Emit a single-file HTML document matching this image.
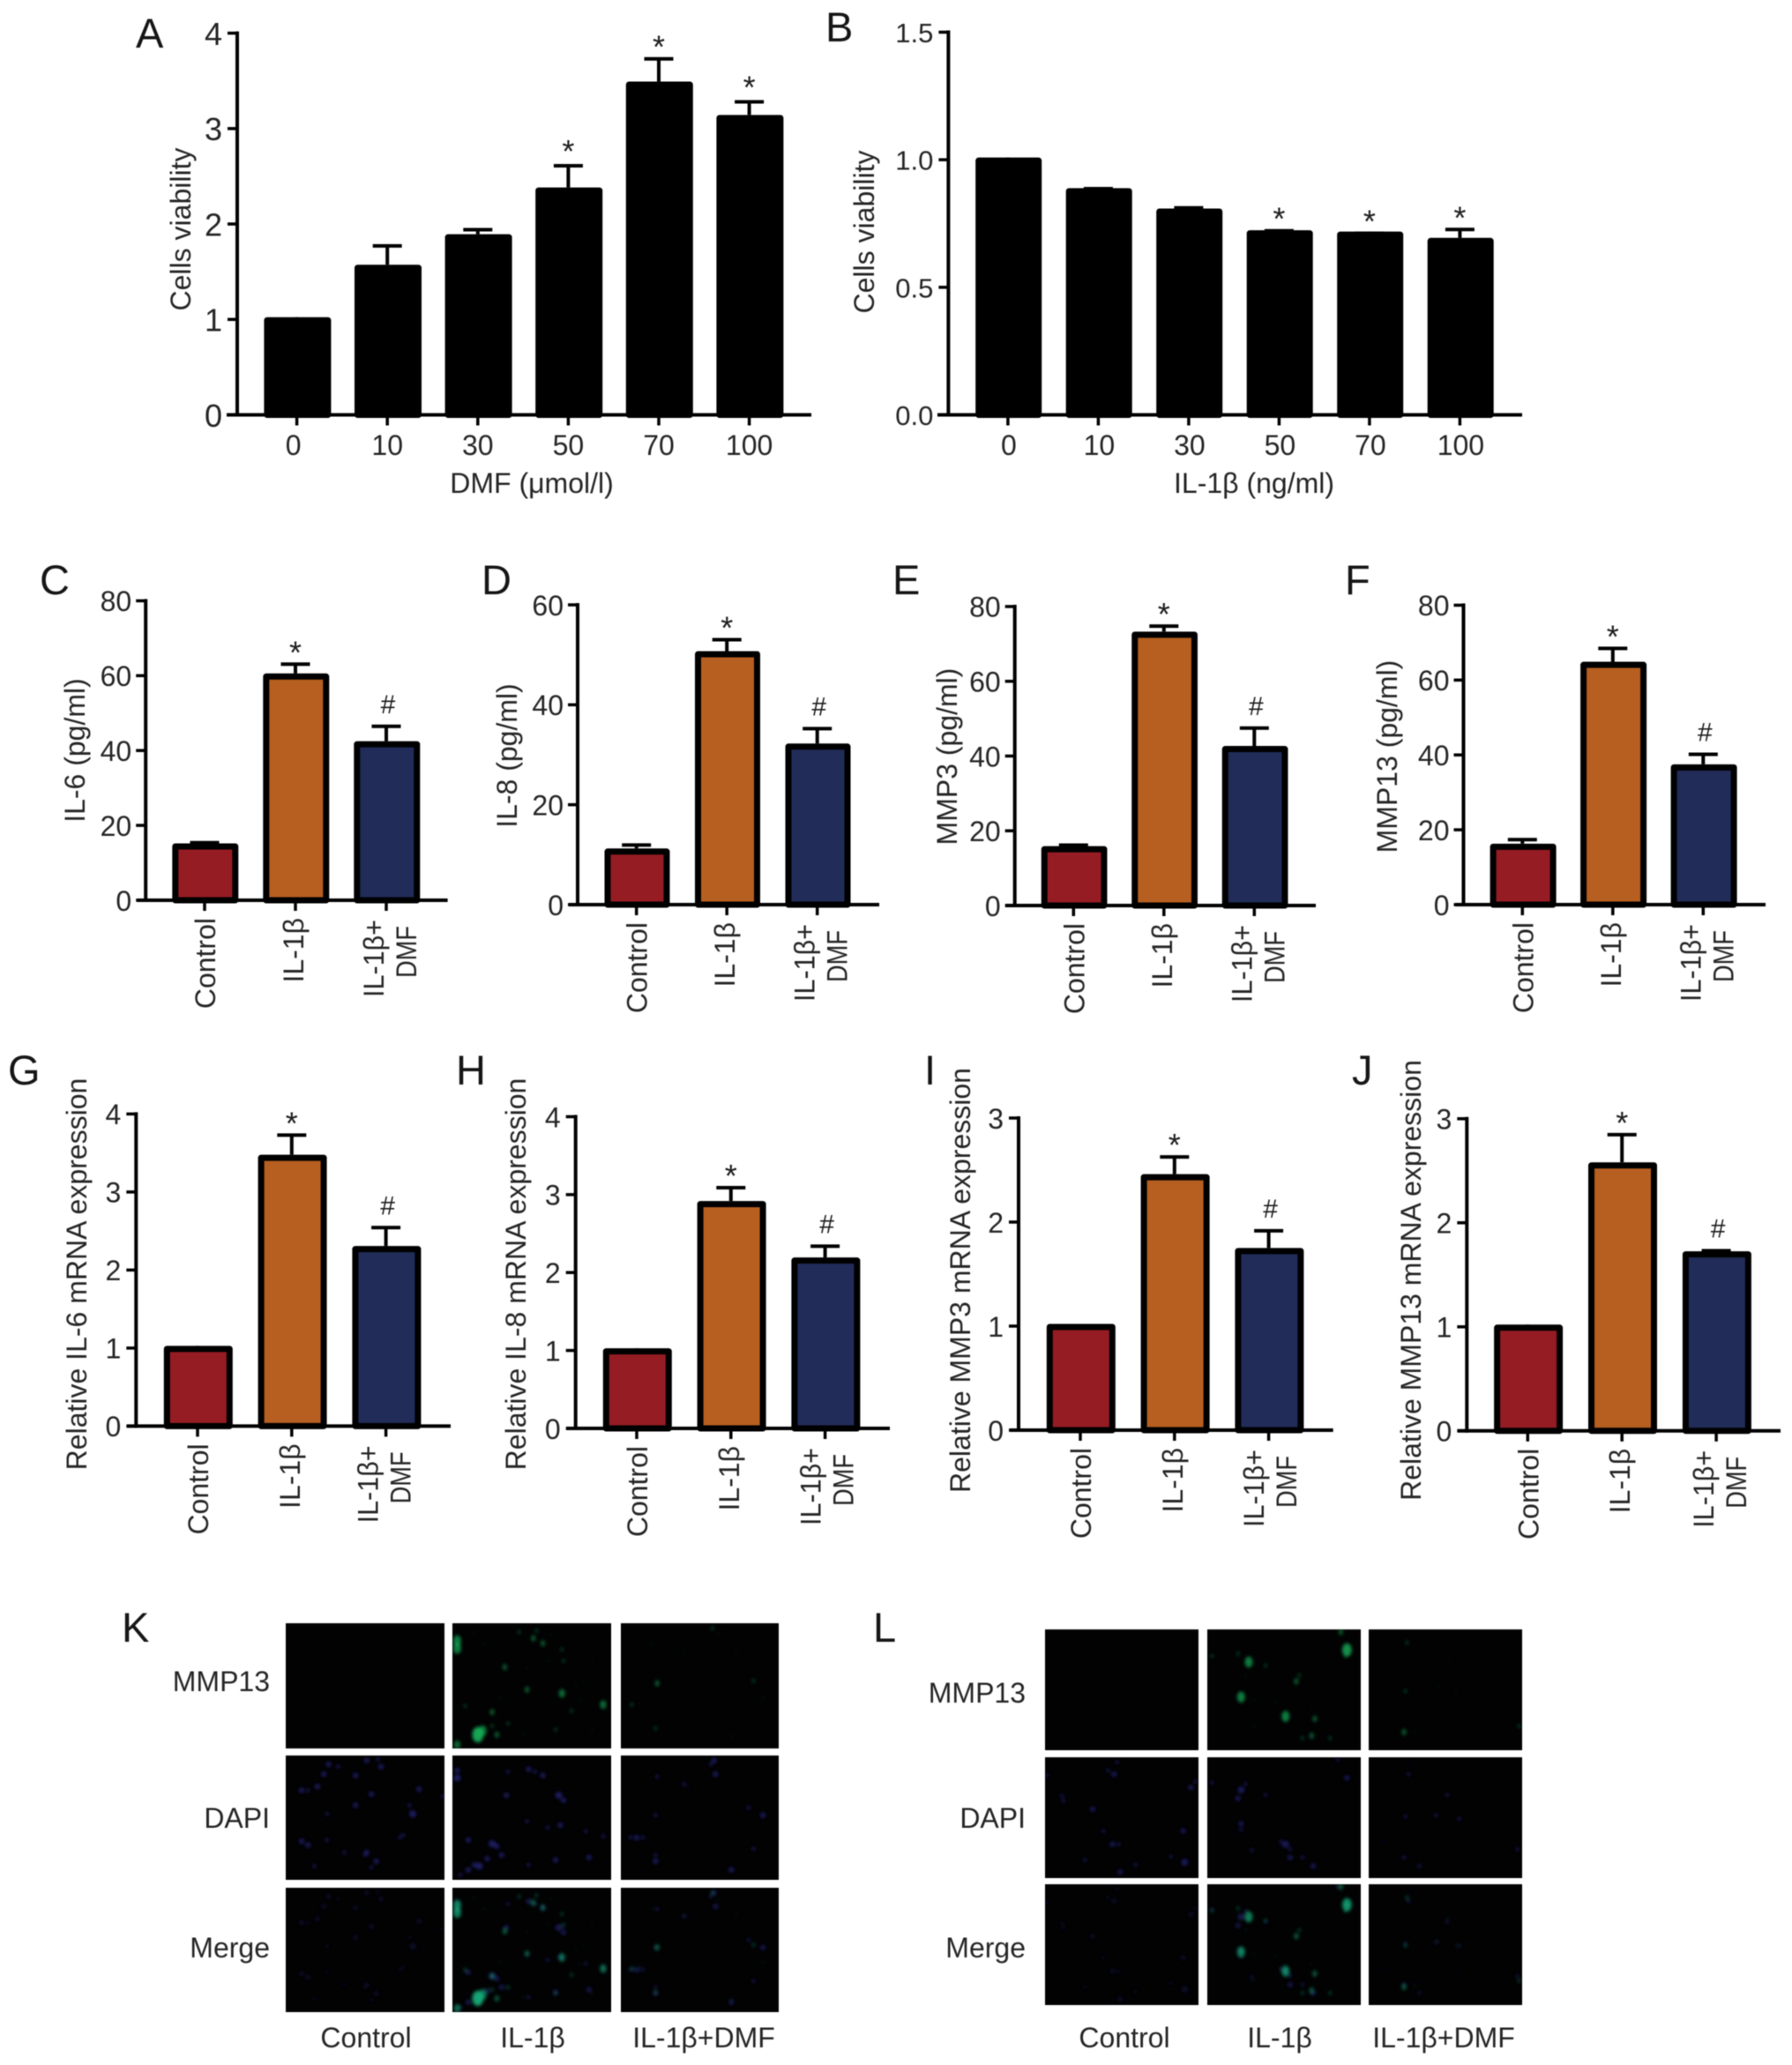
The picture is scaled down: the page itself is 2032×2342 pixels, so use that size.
<!DOCTYPE html>
<html lang="en">
<head>
<meta charset="utf-8">
<title>DMF and IL-1β bar chart figure</title>
<style>
html,body{margin:0;padding:0;background:#fff;}
svg{display:block;filter:blur(.55px);}
text{font-family:"Liberation Sans","DejaVu Sans",sans-serif;font-size:32px;fill:#252525;}
.letter{font-size:47px;fill:#151515;}
.end{text-anchor:end;}
.mid{text-anchor:middle;}
</style>
</head>
<body>
<svg id="figure" xmlns="http://www.w3.org/2000/svg" width="2032" height="2342" viewBox="0 0 2032 2342">
<rect width="2032" height="2342" fill="#fff"/>
<defs><filter id="soft" x="-10%" y="-10%" width="120%" height="120%"><feGaussianBlur stdDeviation="1.8"/></filter></defs>

<text class="letter" x="154" y="54">A</text>
<text class="letter" x="936" y="47">B</text>
<text class="letter" x="45" y="674">C</text>
<text class="letter" x="546" y="674">D</text>
<text class="letter" x="1012" y="674">E</text>
<text class="letter" x="1525" y="674">F</text>
<text class="letter" x="9" y="1230">G</text>
<text class="letter" x="517" y="1230">H</text>
<text class="letter" x="1048" y="1230">I</text>
<text class="letter" x="1533" y="1230">J</text>
<text class="letter" x="138" y="1862">K</text>
<text class="letter" x="990" y="1862">L</text>

<text class="mid" transform="translate(216,260) rotate(-90)">Cells viability</text>
<text class="mid" transform="translate(991,263) rotate(-90)">Cells viability</text>
<text class="mid" transform="translate(96,851) rotate(-90)">IL-6 (pg/ml)</text>
<text class="mid" transform="translate(586,857) rotate(-90)">IL-8 (pg/ml)</text>
<text class="mid" transform="translate(1085,858) rotate(-90)">MMP3 (pg/ml)</text>
<text class="mid" transform="translate(1584,858) rotate(-90)">MMP13 (pg/ml)</text>
<text class="mid" transform="translate(98,1445) rotate(-90)">Relative IL-6 mRNA expression</text>
<text class="mid" transform="translate(596,1445) rotate(-90)">Relative IL-8 mRNA expression</text>
<text class="mid" transform="translate(1100,1452) rotate(-90)">Relative MMP3 mRNA expression</text>
<text class="mid" transform="translate(1611,1452) rotate(-90)">Relative MMP13 mRNA expression</text>

<text class="mid" x="603" y="559">DMF (μmol/l)</text>
<text class="mid" x="1422" y="559">IL-1β (ng/ml)</text>

<text class="end" x="306" y="1918">MMP13</text>
<text class="end" x="306" y="2073">DAPI</text>
<text class="end" x="306" y="2220">Merge</text>
<text class="mid" x="415" y="2322">Control</text>
<text class="mid" x="604" y="2322">IL-1β</text>
<text class="mid" x="798" y="2322">IL-1β+DMF</text>

<text class="end" x="1163" y="1931">MMP13</text>
<text class="end" x="1163" y="2073">DAPI</text>
<text class="end" x="1163" y="2220">Merge</text>
<text class="mid" x="1275" y="2322">Control</text>
<text class="mid" x="1451" y="2322">IL-1β</text>
<text class="mid" x="1637" y="2322">IL-1β+DMF</text>

<g id="charts"></g>
<g id="micrographs"></g>
</svg>

<script>
// ---- chart values ----
const doseCategoriesA = ['0','10','30','50','70','100'];
const doseCategoriesB = ['0','10','30','50','70','100'];
const groupCategories = ['Control','IL-1β','IL-1β+|DMF'];

const ticksA = [0,1,2,3,4];
const tickLabelsA = ['0','1','2','3','4'];
const valuesA = [1,1.55,1.87,2.36,3.47,3.12];
const errorTopsA = [1,1.78,1.95,2.62,3.74,3.29];
const marksA = ['','','','*','*','*'];

const ticksB = [0,0.5,1,1.5];
const tickLabelsB = ['0.0','0.5','1.0','1.5'];
const valuesB = [1,0.88,0.8,0.715,0.71,0.685];
const errorTopsB = [1,0.89,0.815,0.725,0.715,0.73];
const marksB = ['','','','*','*','*'];

const ticksC = [0,20,40,60,80];
const tickLabelsC = ['0','20','40','60','80'];
const valuesC = [14.6,60,41.9];
const errorTopsC = [15.6,63.3,46.7];

const ticksD = [0,20,40,60];
const tickLabelsD = ['0','20','40','60'];
const valuesD = [10.8,50.3,31.8];
const errorTopsD = [12.1,53.2,35.4];

const ticksE = [0,20,40,60,80];
const tickLabelsE = ['0','20','40','60','80'];
const valuesE = [15.3,72.7,42.1];
const errorTopsE = [16.4,75,47.7];

const ticksF = [0,20,40,60,80];
const tickLabelsF = ['0','20','40','60','80'];
const valuesF = [15.7,64.3,36.9];
const errorTopsF = [17.6,68.7,40.4];

const ticksG = [0,1,2,3,4];
const tickLabelsG = ['0','1','2','3','4'];
const valuesG = [1,3.45,2.28];
const errorTopsG = [1,3.74,2.555];

const ticksH = [0,1,2,3,4];
const tickLabelsH = ['0','1','2','3','4'];
const valuesH = [1,2.89,2.165];
const errorTopsH = [1,3.1,2.35];

const ticksI = [0,1,2,3];
const tickLabelsI = ['0','1','2','3'];
const valuesI = [1,2.44,1.73];
const errorTopsI = [1,2.635,1.925];

const ticksJ = [0,1,2,3];
const tickLabelsJ = ['0','1','2','3'];
const valuesJ = [1,2.56,1.705];
const errorTopsJ = [1,2.855,1.74];

const groupMarks = ['','*','#'];
const groupColors = ['#961c24','#b65f20','#212c59'];

// ---- micrograph spots: [x%, y%, radius] within each image ----
const kGreenControl = [];
const kGreenIl = [[3,14,5],[3,20,5],[16,89,7],[19,86,5],[69,56,4],[95,65,4],[51,12,3],[57,16,3],[33,35,3],[47,53,3],[25,71,3],[3,97,4],[65,85,2],[69,21,2],[8,66,2],[28,89,3],[14,8,1],[20,17,1],[42,7,2],[62,9,1],[70,30,2],[60,30,1],[47,35,1],[78,50,1],[88,28,1],[75,70,2],[83,45,1],[88,85,1],[45,88,1],[30,60,1],[35,80,2],[25,82,2],[53,6,2],[80,62,1]];
const kGreenDmf = [[58,4,2],[23,48,3],[22,84,2],[84,46,2],[7,65,2],[73,21,1],[62,9,1],[20,17,1],[40,22,1],[90,60,1],[70,90,1],[12,64,1]];
const kBlueControl = [[27,7,3],[51,4,3],[60,9,3],[24,15,3],[44,16,3],[20,25,3],[10,28,3],[84,27,3],[54,31,3],[44,40,3],[80,47,4],[26,47,2],[10,69,3],[26,68,2],[72,66,2],[37,78,2],[51,78,3],[57,85,3],[18,89,2],[99,33,2],[33,9,2],[58,3,2],[14,28,2],[78,40,2],[14,72,3],[50,80,2],[54,90,2],[74,64,2]];
const kBlueIl = [[3,18,4],[48,11,3],[57,16,3],[34,32,3],[67,32,4],[68,56,3],[47,53,2],[25,71,4],[10,68,3],[17,89,4],[10,92,3],[31,80,3],[65,84,3],[86,82,3],[48,88,2],[84,61,2],[95,65,2],[35,13,2],[14,88,3],[22,83,3],[5,96,2],[70,36,3],[52,13,2],[28,73,3],[60,58,2],[3,12,3]];
const kBlueDmf = [[59,4,3],[60,15,3],[40,23,2],[23,17,2],[22,48,2],[90,48,3],[81,42,2],[10,66,3],[22,85,3],[70,92,3],[84,75,2],[6,66,2],[14,66,2],[57,7,2],[43,25,1],[22,80,2]];
const lGreenControl = [];
const lGreenIl = [[91,17,6],[27,27,5],[22,56,5],[51,72,5],[70,74,3],[58,43,3],[38,30,2],[87,2,3],[68,88,3],[20,20,2],[3,22,2],[60,38,2],[30,58,1],[45,60,1],[68,66,1],[80,90,2],[62,90,2],[30,80,1],[25,38,1],[90,22,2]];
const lGreenDmf = [[23,85,3],[24,51,2],[25,11,2],[45,47,1],[57,51,1],[98,80,2],[30,85,1],[52,28,1]];
const lBlueControl = [[45,14,3],[41,11,2],[95,25,3],[11,32,2],[31,43,3],[38,61,2],[90,61,3],[44,72,3],[91,87,4],[49,95,3],[59,89,2],[1,15,2],[98,20,2],[26,85,2],[82,82,2],[48,72,2],[12,36,2],[47,4,2]];
const lBlueIl = [[22,27,4],[38,31,2],[91,17,3],[22,55,3],[51,72,4],[29,77,2],[69,90,3],[54,83,3],[85,2,2],[20,34,3],[25,22,2],[3,21,2],[62,83,2],[54,76,2],[48,70,2],[22,60,2]];
const lBlueDmf = [[26,14,2],[51,31,2],[24,49,2],[44,48,2],[59,51,2],[23,83,2],[97,76,2],[33,90,2],[30,82,1],[27,5,1],[57,75,1],[10,70,1]];

// ---- drawing ----
const NS = 'http://www.w3.org/2000/svg';
const chartsRoot = document.getElementById('charts');
const microRoot = document.getElementById('micrographs');

function mk(tag, attrs, parent, text) {
  const el = document.createElementNS(NS, tag);
  for (const k in attrs) el.setAttribute(k, attrs[k]);
  if (text !== undefined) el.textContent = text;
  parent.appendChild(el);
  return el;
}

function drawChart(p) {
  const g = mk('g', {}, chartsRoot);
  
  
  const yMax = p.ticks[p.ticks.length - 1];
  const yScale = v => p.y0 - (v / yMax) * (p.y0 - p.yTop);
  const xScale = i => p.x0 + i * p.step;
  const sw = 7;
  const lift = 2.5;

  p.values.forEach((v, i) => {
    const cx = xScale(i);
    const top = yScale(v) - lift;
    const errTop = yScale(p.errs[i]);
    const capW = 33;
    const stem = mk('line', {x1: cx, x2: cx, y1: top, y2: errTop, stroke: '#000', 'stroke-width': 4}, g);
    
    
    const cap = mk('line', {x1: cx - capW / 2, x2: cx + capW / 2, y1: errTop + 1, y2: errTop + 1, stroke: '#000', 'stroke-width': 4}, g);
    
    
    const barX = cx + 0.8 - (p.barW + 2) / 2 + sw / 2;
    const bar = mk('rect', {x: barX, y: top + sw / 2, width: p.barW + 2 - sw, height: Math.max(0, p.y0 - top - sw / 2), fill: p.colors ? p.colors[i] : '#000', stroke: '#000', 'stroke-width': sw, 'stroke-linejoin': 'round'}, g);
    
    
    if (p.marks[i] === '*') {
      const star = mk('text', {x: cx, y: errTop - (p.id === 'a' && i !== 4 ? 3 : 0), 'text-anchor': 'middle', style: 'font-size:36px;fill:#1c1c1c'}, g, '*');
      
      
    } else if (p.marks[i] === '#') {
      const hash = mk('text', {x: cx + 2, y: errTop - 14, 'text-anchor': 'middle', style: 'font-size:30px;fill:#1c1c1c'}, g, '#');
      
      
    }
    const tick = mk('line', {x1: cx, x2: cx, y1: p.y0, y2: p.y0 + 12, stroke: '#000', 'stroke-width': 3.5}, g);
    
    

    const cat = p.cats[i];
    if (p.rotated) {
      const lines = cat.split('|');
      if (lines.length > 1) {
        const first = mk('text', {'text-anchor': 'end', textLength: 88, lengthAdjust: 'spacingAndGlyphs', transform: 'translate(' + (cx + p.twoLine) + ',' + (p.y0 + 22) + ') rotate(-90)'}, g, lines[0]);
        
        
        const second = mk('text', {'text-anchor': 'end', textLength: 59, lengthAdjust: 'spacingAndGlyphs', transform: 'translate(' + (cx + p.twoLine + 37) + ',' + (p.y0 + 29) + ') rotate(-90)'}, g, lines[1]);
        
        
      } else {
        const t = mk('text', {'text-anchor': 'end', transform: 'translate(' + (cx + (i === 0 ? 12 : 9)) + ',' + (p.y0 + 20) + ') rotate(-90)'}, g, cat);
        
        
      }
    } else {
      const shift = (p.id === 'a' && i === 0) ? -4 : p.catShift;
      const t = mk('text', {x: cx + shift, y: 516, 'text-anchor': 'middle', style: 'font-size:32px'}, g, cat);
      
      
    }
  });

  const yAxis = mk('line', {x1: p.axisX, x2: p.axisX, y1: p.yTop - 2, y2: p.y0 + 2, stroke: '#000', 'stroke-width': 4}, g);
  
  
  const xAxis = mk('line', {x1: p.xStart, x2: p.xEnd, y1: p.y0, y2: p.y0, stroke: '#000', 'stroke-width': 4}, g);
  
  

  p.ticks.forEach((t, i) => {
    const y = yScale(t);
    const tick = mk('line', {x1: p.axisX - 11, x2: p.axisX, y1: y, y2: y, stroke: '#000', 'stroke-width': 3.5}, g);
    
    
    const lab = mk('text', {x: p.axisX - p.tickGap, y: y + p.tickFont * 0.37, 'text-anchor': 'end', style: 'font-size:' + p.tickFont + 'px'}, g, p.tickLabels[i]);
    
    
  });
}

drawChart({id:'a',values:valuesA,errs:errorTopsA,ticks:ticksA,tickLabels:tickLabelsA,marks:marksA,cats:doseCategoriesA,axisX:269,yTop:37.6,y0:470.5,xStart:257,xEnd:920,x0:336.6,step:102.6,barW:74,rotated:false,catShift:0,tickFont:36,tickGap:17});
drawChart({id:'b',values:valuesB,errs:errorTopsB,ticks:ticksB,tickLabels:tickLabelsB,marks:marksB,cats:doseCategoriesB,axisX:1075.4,yTop:36.5,y0:470.5,xStart:1063,xEnd:1726,x0:1142.9,step:102.5,barW:73,rotated:false,catShift:1,tickFont:31,tickGap:17});
drawChart({id:'c',values:valuesC,errs:errorTopsC,ticks:ticksC,tickLabels:tickLabelsC,marks:groupMarks,colors:groupColors,cats:groupCategories,axisX:165.2,yTop:681.4,y0:1021,xStart:155.4,xEnd:507.6,x0:232,step:103,barW:73,rotated:true,twoLine:-3,tickFont:32,tickGap:16});
drawChart({id:'d',values:valuesD,errs:errorTopsD,ticks:ticksD,tickLabels:tickLabelsD,marks:groupMarks,colors:groupColors,cats:groupCategories,axisX:655,yTop:686,y0:1026,xStart:645,xEnd:997,x0:721.7,step:102.5,barW:72,rotated:true,twoLine:-3,tickFont:32,tickGap:16});
drawChart({id:'e',values:valuesE,errs:errorTopsE,ticks:ticksE,tickLabels:tickLabelsE,marks:groupMarks,colors:groupColors,cats:groupCategories,axisX:1150.7,yTop:687.9,y0:1027,xStart:1140,xEnd:1492,x0:1217.3,step:102.5,barW:72.7,rotated:true,twoLine:-3,tickFont:32,tickGap:16});
drawChart({id:'f',values:valuesF,errs:errorTopsF,ticks:ticksF,tickLabels:tickLabelsF,marks:groupMarks,colors:groupColors,cats:groupCategories,axisX:1659.5,yTop:686.4,y0:1026,xStart:1650,xEnd:2002,x0:1726.3,step:102.5,barW:73,rotated:true,twoLine:-3,tickFont:32,tickGap:16});
drawChart({id:'g',values:valuesG,errs:errorTopsG,ticks:ticksG,tickLabels:tickLabelsG,marks:groupMarks,colors:groupColors,cats:groupCategories,axisX:154.3,yTop:1263.4,y0:1617.4,xStart:144,xEnd:511,x0:224,step:106.8,barW:76,rotated:true,twoLine:-9,tickFont:32,tickGap:17});
drawChart({id:'h',values:valuesH,errs:errorTopsH,ticks:ticksH,tickLabels:tickLabelsH,marks:groupMarks,colors:groupColors,cats:groupCategories,axisX:652.7,yTop:1266.5,y0:1620,xStart:642.3,xEnd:1009,x0:722,step:106.8,barW:76,rotated:true,twoLine:-5,tickFont:32,tickGap:17});
drawChart({id:'i',values:valuesI,errs:errorTopsI,ticks:ticksI,tickLabels:tickLabelsI,marks:groupMarks,colors:groupColors,cats:groupCategories,axisX:1155,yTop:1268,y0:1622,xStart:1145,xEnd:1511.7,x0:1225,step:106.8,barW:76,rotated:true,twoLine:-5.5,tickFont:32,tickGap:17});
drawChart({id:'j',values:valuesJ,errs:errorTopsJ,ticks:ticksJ,tickLabels:tickLabelsJ,marks:groupMarks,colors:groupColors,cats:groupCategories,axisX:1663.3,yTop:1268.8,y0:1622.8,xStart:1652.7,xEnd:2019,x0:1732.3,step:106.9,barW:76,rotated:true,twoLine:-3,tickFont:32,tickGap:17});

function drawImage(name, x, y, w, h, blue, green, blueOpacity, greenColor) {
  const g = mk('g', {}, microRoot);
  
  
  mk('rect', {x: x, y: y, width: w, height: h, fill: '#020203'}, g);
  const spots = mk('svg', {x: x, y: y, width: w, height: h, viewBox: '0 0 ' + w + ' ' + h, style: 'overflow:hidden'}, g);
  const layer = mk('g', {filter: 'url(#soft)'}, spots);
  blue.forEach(s => {
    mk('circle', {cx: s[0] * w / 100, cy: s[1] * h / 100, r: s[2] * 0.95, fill: '#3230b0', opacity: blueOpacity}, layer);
  });
  green.forEach(s => {
    mk('ellipse', {cx: s[0] * w / 100, cy: s[1] * h / 100, rx: s[2] * 0.9, ry: s[2] * 1.25, fill: greenColor, opacity: Math.min(0.95, 0.15 + s[2] * 0.11)}, layer);
  });
}

const kCols = [[324,180],[513,180],[704,179]];
const kRows = [[1841,142],[1991,141],[2141,141]];
const lCols = [[1185,174],[1369,174],[1552,174]];
const lRows = [[1848,137],[1993,137],[2137,137]];

const kGreens = [kGreenControl,kGreenIl,kGreenDmf];
const kBlues = [kBlueControl,kBlueIl,kBlueDmf];
const lGreens = [lGreenControl,lGreenIl,lGreenDmf];
const lBlues = [lBlueControl,lBlueIl,lBlueDmf];
const colNames = ['control','il1b','il1b-dmf'];

kCols.forEach((c, i) => {
  drawImage('micrograph-k-mmp13-' + colNames[i], c[0], kRows[0][0], c[1], kRows[0][1], [], kGreens[i], 0, '#16b25a');
  drawImage('micrograph-k-dapi-' + colNames[i], c[0], kRows[1][0], c[1], kRows[1][1], kBlues[i], [], 0.6, '#16b25a');
  drawImage('micrograph-k-merge-' + colNames[i], c[0], kRows[2][0], c[1], kRows[2][1], kBlues[i], kGreens[i], i === 0 ? 0.22 : 0.5, '#14b07a');
});
lCols.forEach((c, i) => {
  drawImage('micrograph-l-mmp13-' + colNames[i], c[0], lRows[0][0], c[1], lRows[0][1], [], lGreens[i], 0, '#16b25a');
  drawImage('micrograph-l-dapi-' + colNames[i], c[0], lRows[1][0], c[1], lRows[1][1], lBlues[i], [], 0.55, '#16b25a');
  drawImage('micrograph-l-merge-' + colNames[i], c[0], lRows[2][0], c[1], lRows[2][1], lBlues[i], lGreens[i], i === 0 ? 0.22 : 0.45, '#14b07a');
});
</script>
</body>
</html>
